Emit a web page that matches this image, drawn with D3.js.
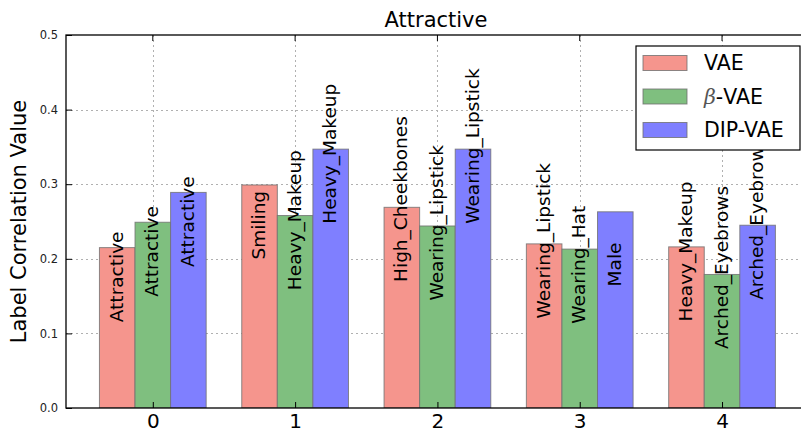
<!DOCTYPE html>
<html>
<head>
<meta charset="utf-8">
<script src="https://cdn.jsdelivr.net/npm/d3@7"></script>
<style>
  html, body { margin: 0; padding: 0; background: #fff; }
  svg { display: block; font-family: "DejaVu Sans", sans-serif; }
</style>
</head>
<body>
<svg id="chart" width="801" height="435"></svg>
<script>
// Top-ranked attribute correlations for three models
const groups = [0, 1, 2, 3, 4];
const seriesNames = ["VAE", "β-VAE", "DIP-VAE"];
const vaeValues = [0.215, 0.299, 0.269, 0.220, 0.216];
const betaVaeValues = [0.249, 0.258, 0.244, 0.213, 0.179];
const dipVaeValues = [0.289, 0.347, 0.347, 0.263, 0.245];
const vaeLabels = ["Attractive", "Smiling", "High_Cheekbones", "Wearing_Lipstick", "Heavy_Makeup"];
const betaVaeLabels = ["Attractive", "Heavy_Makeup", "Wearing_Lipstick", "Wearing_Hat", "Arched_Eyebrows"];
const dipVaeLabels = ["Attractive", "Heavy_Makeup", "Wearing_Lipstick", "Male", "Arched_Eyebrows"];
const yTicks = [0.0, 0.1, 0.2, 0.3, 0.4, 0.5];
const seriesColors = ["#f5958d", "#7fbf7f", "#7f7fff"];

const series = [
  { name: seriesNames[0], values: vaeValues, labels: vaeLabels, color: seriesColors[0], offset: -1 },
  { name: seriesNames[1], values: betaVaeValues, labels: betaVaeLabels, color: seriesColors[1], offset: 0 },
  { name: seriesNames[2], values: dipVaeValues, labels: dipVaeLabels, color: seriesColors[2], offset: 1 }
];

const svg = d3.select("#chart");
const plotL = 66, plotR = 806, plotT = 35, plotB = 408;
const barW = 0.25;

const x = d3.scaleLinear().domain([-0.61, 4.59]).range([plotL, plotR]);
const y = d3.scaleLinear().domain([0, 0.5]).range([plotB, plotT]);

svg.append("defs").append("clipPath").attr("id", "plotclip")
  .append("rect").attr("x", plotL).attr("y", plotT).attr("width", plotR - plotL).attr("height", plotB - plotT);

// grid
const grid = svg.append("g").attr("stroke", "#b0b0b0").attr("stroke-dasharray", "2,3").attr("stroke-width", 1);
yTicks.slice(1, -1).forEach(t => {
  grid.append("line").attr("x1", plotL).attr("x2", plotR)
    .attr("y1", Math.round(y(t)) + 0.5).attr("y2", Math.round(y(t)) + 0.5);
});
groups.forEach(g => {
  grid.append("line").attr("x1", Math.round(x(g)) + 0.5).attr("x2", Math.round(x(g)) + 0.5)
    .attr("y1", plotT).attr("y2", plotB);
});

// bars
const plot = svg.append("g").attr("clip-path", "url(#plotclip)");
series.forEach(s => {
  plot.selectAll(null).data(groups).enter().append("rect")
    .attr("x", g => x(g + s.offset * barW - barW / 2))
    .attr("width", g => x(g + barW / 2) - x(g - barW / 2))
    .attr("y", (g, i) => y(s.values[i]))
    .attr("height", (g, i) => y(0) - y(s.values[i]))
    .attr("fill", s.color)
    .attr("stroke", "#6f6f6f")
    .attr("stroke-opacity", 0.8)
    .attr("stroke-width", 1);
});

// bar labels (rotated, starting 0.1 below bar top)
series.forEach(s => {
  plot.selectAll(null).data(groups).enter().append("text")
    .attr("transform", (g, i) => `translate(${x(g + s.offset * barW)},${y(s.values[i] - 0.1)}) rotate(-90)`)
    .attr("dy", "0.3em")
    .attr("text-anchor", "start")
    .attr("font-size", 18.5)
    .attr("fill", "#000")
    .text((g, i) => s.labels[i]);
});

// axes
const yAxis = d3.axisLeft(y).tickValues(yTicks).tickFormat(d3.format(".1f")).tickSizeInner(-6).tickSizeOuter(0).tickPadding(8);
const yg = svg.append("g").attr("transform", `translate(${plotL},0)`).call(yAxis);
yg.select(".domain").remove();
yg.selectAll("text").attr("font-size", 11.5).attr("fill", "#222").attr("font-family", "DejaVu Sans");

const xAxis = d3.axisBottom(x).tickValues(groups).tickFormat(d3.format("d")).tickSizeInner(-6).tickSizeOuter(0).tickPadding(6);
const xg = svg.append("g").attr("transform", `translate(0,${plotB})`).call(xAxis);
xg.select(".domain").remove();
xg.selectAll("text").attr("font-size", 20).attr("fill", "#000").attr("font-family", "DejaVu Sans");

// top ticks
groups.forEach(g => {
  svg.append("line").attr("x1", x(g)).attr("x2", x(g)).attr("y1", plotT).attr("y2", plotT + 6).attr("stroke", "#000");
});

// frame
svg.append("rect").attr("x", plotL).attr("y", plotT).attr("width", plotR - plotL).attr("height", plotB - plotT)
  .attr("fill", "none").attr("stroke", "#000").attr("stroke-width", 1.3);

// title and y label
svg.append("text").attr("x", (plotL + plotR) / 2).attr("y", 27).attr("text-anchor", "middle")
  .attr("font-size", 21).text("Attractive");
svg.append("text").attr("transform", `translate(26,${(plotT + plotB) / 2}) rotate(-90)`)
  .attr("text-anchor", "middle").attr("font-size", 21).text("Label Correlation Value");

// legend
const lg = svg.append("g").attr("transform", "translate(636,46)");
lg.append("rect").attr("x", 0).attr("y", 0).attr("width", 164).attr("height", 104)
  .attr("fill", "#fff").attr("stroke", "#000").attr("stroke-width", 1.2);
series.forEach((s, i) => {
  const cy = 17 + i * 33.5;
  lg.append("rect").attr("x", 7).attr("y", cy - 7.5).attr("width", 44).attr("height", 15)
    .attr("fill", s.color).attr("stroke", "#6f6f6f").attr("stroke-opacity", 0.8);
  const t = lg.append("text").attr("x", 68).attr("y", cy).attr("dy", "0.36em").attr("font-size", 20.5);
  if (s.name.startsWith("β")) {
    t.append("tspan").attr("font-style", "italic").attr("font-family", "DejaVu Serif").attr("fill", "#555").text("β");
    t.append("tspan").text(s.name.slice(1));
  } else {
    t.text(s.name);
  }
});
</script>
</body>
</html>
